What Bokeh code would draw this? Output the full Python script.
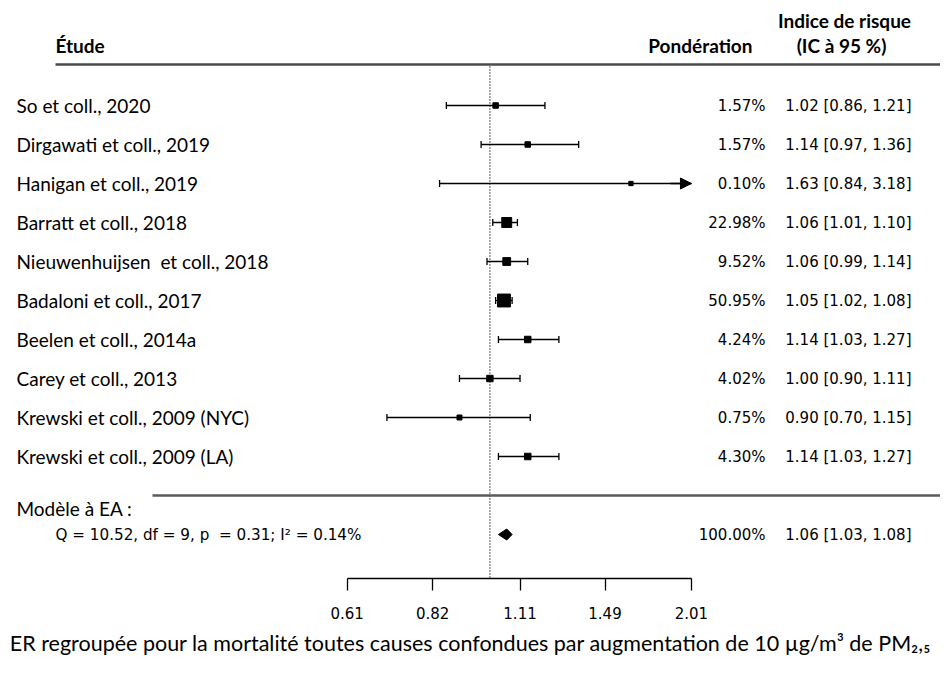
import math
from bokeh.plotting import figure
from bokeh.models import Range1d, FixedTicker, CustomJSTickFormatter, Title, Arrow, NormalHead
from bokeh.core.properties import value
from bokeh.embed import file_html
from bokeh.resources import INLINE

# ---------------- data ----------------
studies = ["So et coll., 2020", "Dirgawati et coll., 2019", "Hanigan et coll., 2019",
           "Barratt et coll., 2018", "Nieuwenhuijsen\u00a0 et coll., 2018", "Badaloni et coll., 2017",
           "Beelen et coll., 2014a", "Carey et coll., 2013", "Krewski et coll., 2009 (NYC)",
           "Krewski et coll., 2009 (LA)"]
estimates = [1.02, 1.14, 1.63, 1.06, 1.06, 1.05, 1.14, 1.00, 0.90, 1.14]
lower = [0.86, 0.97, 0.84, 1.01, 0.99, 1.02, 1.03, 0.90, 0.70, 1.03]
upper = [1.21, 1.36, 3.18, 1.10, 1.14, 1.08, 1.27, 1.11, 1.15, 1.27]
weights = [1.57, 1.57, 0.10, 22.98, 9.52, 50.95, 4.24, 4.02, 0.75, 4.30]
summary_est, summary_lo, summary_hi, summary_w = 1.06, 1.03, 1.08, 100.00
summary_label = "Modèle à EA :"
het_text = "Q = 10.52, df = 9, p\u00a0 = 0.31; I² = 0.14%"
tick_labels = ["0.61", "0.82", "1.11", "1.49", "2.01"]
caption = "ER regroupée pour la mortalité toutes causes confondues par augmentation de 10 µg/m³ de PM₂,₅"

# ---------------- layout ----------------
W, H = 940, 668
REF_PX = 489.4
PX_LN = 288.7
Y0 = 495.0
ROW = 39.0
AXIS_Y = 578

def xv(px):
    return math.exp((px - REF_PX) / PX_LN)

def yr(py):
    return (Y0 - py) / ROW

k = len(studies)
rows = [k - i for i in range(k)]
ticks = [float(t) for t in tick_labels]
alim = (ticks[0], ticks[-1])

p = figure(width=W, height=H, x_axis_type="log",
           x_range=Range1d(xv(0), xv(W)),
           y_range=Range1d(yr(AXIS_Y), yr(0)),
           output_backend="svg", toolbar_location=None,
           min_border_left=0, min_border_right=0, min_border_top=0,
           min_border_bottom=H - AXIS_Y,
           y_axis_location=None, outline_line_color=None)
p.xgrid.visible = False
p.ygrid.visible = False

ax = p.xaxis[0]
ax.ticker = FixedTicker(ticks=ticks)
ax.bounds = alim
ax.formatter = CustomJSTickFormatter(code="return tick.toFixed(2);")
ax.major_tick_in = 0
ax.major_tick_out = 12
ax.minor_tick_in = 0
ax.minor_tick_out = 0
ax.axis_line_width = 1.3
ax.major_tick_line_width = 1.3
ax.axis_line_color = "black"
ax.major_tick_line_color = "black"
ax.major_label_text_font = "DejaVu Sans"
ax.major_label_text_font_size = "15px"
ax.major_label_text_color = "black"
ax.major_label_standoff = 16

R_FONT = value("DejaVu Sans")
C_FONT = value("Lato")

# reference (dotted) line
p.segment(x0=[1.0], y0=[k + 1], x1=[1.0], y1=[yr(AXIS_Y)], line_color="#222222",
          line_width=1.5, line_dash="1 2")

# header and separator lines
p.segment(x0=[xv(55)], y0=[yr(64)], x1=[xv(W)], y1=[yr(64)], line_color="#4a4a4a", line_width=2.5)
p.segment(x0=[xv(152)], y0=[0], x1=[xv(W)], y1=[0], line_color="#5a5a5a", line_width=2.5)

# confidence intervals
lo_d = [max(l, alim[0]) for l in lower]
hi_d = [min(h, alim[1]) for h in upper]
p.segment(x0=lo_d, y0=rows, x1=hi_d, y1=rows, line_color="black", line_width=1.3)
cap_x = [l for l, lo in zip(lo_d, lower) if l == lo] + [h for h, hi in zip(hi_d, upper) if h == hi]
cap_y = [r for r, l, lo in zip(rows, lo_d, lower) if l == lo] + [r for r, h, hi in zip(rows, hi_d, upper) if h == hi]
p.scatter(x=cap_x, y=cap_y, marker="dash", angle=math.pi / 2, size=7, line_color="black", line_width=1.3)
for r, h, hi in zip(rows, hi_d, upper):
    if h < hi:
        p.add_layout(Arrow(end=NormalHead(size=11, fill_color="black", line_color="black"),
                           x_start=xv(670), y_start=r, x_end=h, y_end=r,
                           line_color="black", line_width=1.3))

# squares sized by weight (metafor-style scaling)
sw = [math.sqrt(w) for w in weights]
smin, smax = min(sw), max(sw)
sizes = [8.6 * (0.5 + (s - smin) / (smax - smin)) for s in sw]
p.scatter(x=estimates, y=rows, marker="square", size=sizes, fill_color="black", line_color="black")

# summary diamond
dh = 5.5 / ROW
p.patch(x=[summary_lo, summary_est, summary_hi, summary_est], y=[-1, -1 + dh, -1, -1 - dh],
        fill_color="black", line_color="black")

# study labels
p.text(x=[xv(16)] * k, y=rows, text=studies, text_font=C_FONT, text_font_size="19px",
       text_baseline="middle", text_align="left", text_color="black")
# weights and estimates
p.text(x=[xv(765)] * k, y=rows, text=[f"{w:.2f}%" for w in weights], text_font=R_FONT,
       text_font_size="15px", text_baseline="middle", text_align="right", text_color="black")
p.text(x=[xv(911)] * k, y=rows, text=[f"{e:.2f} [{l:.2f}, {h:.2f}]" for e, l, h in zip(estimates, lower, upper)],
       text_font=R_FONT, text_font_size="15px", text_baseline="middle", text_align="right", text_color="black")
# summary row
p.text(x=[xv(16)], y=[yr(508)], text=[summary_label], text_font=C_FONT, text_font_size="19px",
       text_baseline="middle", text_align="left", text_color="black")
p.text(x=[xv(55)], y=[-1], text=[het_text], text_font=R_FONT, text_font_size="15.2px",
       text_baseline="middle", text_align="left", text_color="black")
p.text(x=[xv(765)], y=[-1], text=[f"{summary_w:.2f}%"], text_font=R_FONT, text_font_size="15px",
       text_baseline="middle", text_align="right", text_color="black")
p.text(x=[xv(911)], y=[-1], text=[f"{summary_est:.2f} [{summary_lo:.2f}, {summary_hi:.2f}]"],
       text_font=R_FONT, text_font_size="15px", text_baseline="middle", text_align="right", text_color="black")

# headers
p.text(x=[xv(55)], y=[yr(45)], text=["Étude"], text_font=C_FONT, text_font_size="19px",
       text_font_style="bold", text_baseline="middle", text_align="left", text_color="black")
p.text(x=[xv(752)], y=[yr(45)], text=["Pondération"], text_font=C_FONT, text_font_size="19px",
       text_font_style="bold", text_baseline="middle", text_align="right", text_color="black")
p.text(x=[xv(844)], y=[yr(20)], text=["Indice de risque"], text_font=C_FONT, text_font_size="19px",
       text_font_style="bold", text_baseline="middle", text_align="center", text_color="black")
p.text(x=[xv(841)], y=[yr(45)], text=["(IC à 95 %)"], text_font=C_FONT, text_font_size="19px",
       text_font_style="bold", text_baseline="middle", text_align="center", text_color="black")

# caption below axis
p.add_layout(Title(text=caption, align="center", offset=4, standoff=13, text_font="Lato",
                   text_font_size="21.5px", text_font_style="normal", text_color="black"), "below")

open("out.html", "w").write(file_html(p, INLINE))
